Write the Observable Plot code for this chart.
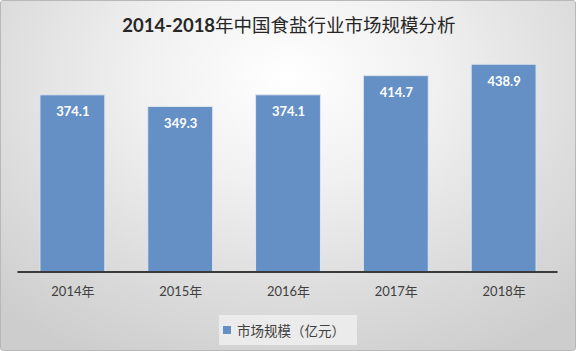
<!DOCTYPE html>
<html>
<head>
<meta charset="utf-8">
<script src="https://cdn.jsdelivr.net/npm/d3@7"></script>
<script src="https://cdn.jsdelivr.net/npm/@observablehq/plot@0.6"></script>
<style>
  html, body { margin: 0; padding: 0; background: #fff; }
  #wrap {
    position: relative; width: 574px; height: 349px; overflow: hidden;
    border: 1px solid #b8b8b8; border-radius: 3px;
    background: radial-gradient(ellipse 75% 90% at 50% 22%, #ffffff 0%, #f0f0f0 35%, #dcdcdc 70%, #cdcdcd 100%);
    font-family: Lato, "Noto Sans CJK SC", sans-serif;
  }
  #title {
    position: absolute; left: 0; width: 576px; top: 11px; text-align: center;
    font-size: 18.5px; color: #262626; line-height: 26px;
  }
  #title b { font-weight: bold; }
  #title span { font-weight: 400; }
  #chart { position: absolute; left: -1px; top: -1px; }
  #legend {
    position: absolute; left: 218px; top: 314px; width: 138px; height: 30px;
    background: rgba(238,238,238,0.85); display: flex; align-items: center;
    font-size: 13.5px; color: #404040;
  }
  #legend .sw { width: 8px; height: 8px; background: #6590c5; margin: 0 6px 0 4px; }
</style>
</head>
<body>
<div id="wrap">
  <div id="title"><b>2014-2018</b><span>年中国食盐行业市场规模分析</span></div>
  <div id="chart"></div>
  <div id="legend"><span class="sw"></span><span>市场规模（亿元）</span></div>
</div>
<script>
const years = ["2014年", "2015年", "2016年", "2017年", "2018年"];
const values = [374.1, 349.3, 374.1, 414.7, 438.9];
const data = years.map((y, i) => ({year: y, value: values[i]}));

const chart = Plot.plot({
  width: 576,
  height: 351,
  marginTop: 35.4,
  marginBottom: 79,
  marginLeft: 17.5,
  marginRight: 17.5,
  style: {background: "transparent", fontFamily: "Lato, 'Noto Sans CJK SC', sans-serif"},
  x: {domain: years, paddingInner: 0.4, paddingOuter: 0.2, label: null},
  y: {domain: [0, 500], axis: null},
  marks: [
    Plot.barY(data, {x: "year", y: "value", fill: "#6590c5", stroke: "#dfe5ee", strokeWidth: 1}),
    Plot.ruleY([0], {stroke: "#3a3a3a", strokeWidth: 2}),
    Plot.text(data, {x: "year", y: "value", text: d => d.value.toFixed(1), dy: 17, fill: "white", fontWeight: "bold", fontSize: 13}),
    Plot.axisX({tickSize: 0, tickPadding: 15, fontSize: 13, color: "#404040", label: null})
  ]
});
document.getElementById("chart").appendChild(chart);
</script>
</body>
</html>
